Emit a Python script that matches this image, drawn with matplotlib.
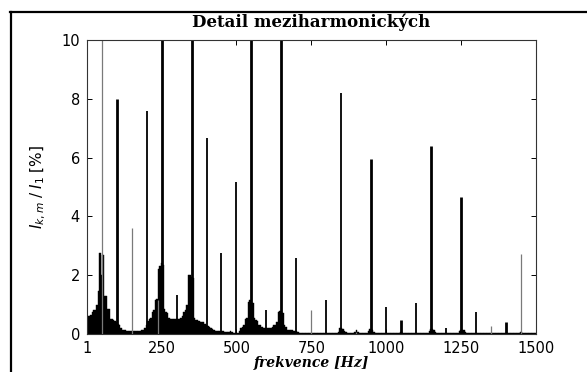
import numpy as np
import matplotlib
matplotlib.use("Agg")
import matplotlib.pyplot as plt
from matplotlib.lines import Line2D

# interharmonic background, 5 Hz bins (5 .. 1500 Hz), values in %
bg_amp = [
    0.6, 0.6, 0.65, 0.75, 0.8, 0.8, 1.0, 1.45, 2.75, 2.0, 2.7, 1.3, 1.3, 0.85, 0.85, 0.5, 0.5, 0.48, 0.45, 0.4,
    0.35, 0.3, 0.2, 0.15, 0.15, 0.12, 0.1, 0.1, 0.1, 0.1, 0.1, 0.1, 0.1, 0.1, 0.1, 0.1, 0.12, 0.15, 0.2, 0.3,
    0.45, 0.5, 0.55, 0.75, 0.8, 1.15, 1.2, 2.2, 2.3, 2.4, 2.35, 0.85, 0.75, 0.7, 0.55, 0.5, 0.5, 0.5, 0.5, 0.5,
    0.5, 0.5, 0.55, 0.6, 0.75, 0.8, 1.0, 2.0, 2.0, 1.95, 1.9, 0.55, 0.48, 0.48, 0.45, 0.42, 0.42, 0.4, 0.35, 0.3,
    0.27, 0.25, 0.2, 0.16, 0.15, 0.1, 0.1, 0.1, 0.1, 0.1, 0.1, 0.08, 0.08, 0.08, 0.08, 0.1, 0.08, 0.05, 0.05, 0.05,
    0.05, 0.1, 0.2, 0.25, 0.3, 0.5, 0.55, 1.1, 1.15, 1.1, 1.05, 0.55, 0.48, 0.45, 0.3, 0.3, 0.25, 0.2, 0.2, 0.2,
    0.2, 0.2, 0.2, 0.25, 0.3, 0.3, 0.4, 0.75, 0.78, 0.75, 0.7, 0.3, 0.25, 0.15, 0.15, 0.12, 0.12, 0.1, 0.1, 0.1,
    0.08, 0.05, 0.04, 0.03, 0.03, 0.03, 0.03, 0.03, 0.03, 0.03, 0.03, 0.03, 0.03, 0.03, 0.03, 0.03, 0.03, 0.03, 0.03, 0.03,
    0.03, 0.03, 0.03, 0.03, 0.03, 0.03, 0.03, 0.08, 0.2, 0.22, 0.18, 0.1, 0.08, 0.05, 0.05, 0.05, 0.04, 0.04, 0.08, 0.14,
    0.08, 0.05, 0.05, 0.05, 0.05, 0.05, 0.05, 0.1, 0.16, 0.16, 0.15, 0.08, 0.05, 0.04, 0.04, 0.03, 0.03, 0.03, 0.03, 0.03,
    0.03, 0.03, 0.03, 0.03, 0.03, 0.03, 0.03, 0.03, 0.05, 0.06, 0.05, 0.03, 0.03, 0.03, 0.03, 0.03, 0.03, 0.03, 0.03, 0.03,
    0.03, 0.03, 0.03, 0.03, 0.03, 0.03, 0.03, 0.05, 0.1, 0.17, 0.17, 0.15, 0.08, 0.05, 0.04, 0.03, 0.03, 0.03, 0.03, 0.05,
    0.03, 0.03, 0.03, 0.03, 0.03, 0.03, 0.03, 0.05, 0.1, 0.15, 0.15, 0.12, 0.06, 0.04, 0.03, 0.03, 0.03, 0.03, 0.03, 0.03,
    0.03, 0.03, 0.03, 0.03, 0.03, 0.03, 0.03, 0.03, 0.03, 0.03, 0.03, 0.03, 0.03, 0.03, 0.03, 0.03, 0.03, 0.03, 0.03, 0.03,
    0.03, 0.03, 0.03, 0.03, 0.03, 0.03, 0.03, 0.03, 0.05, 0.08, 0.05, 0.03, 0.03, 0.03, 0.03, 0.03, 0.03, 0.03, 0.03, 0.03,
]
bg_freq = np.arange(5, 5 * len(bg_amp) + 1, 5)

# harmonic / interharmonic spikes
heavy_freq = [100, 250, 350, 550, 650, 950, 1050, 1150, 1250, 1400]
heavy_amp = [7.98, 12, 12, 12, 12, 5.94, 0.48, 6.4, 4.67, 0.41]

line_freq = [200, 300, 400, 450, 500, 600, 700, 800, 850, 1000, 1100, 1200, 1300]
line_amp = [7.58, 1.33, 6.68, 2.77, 5.16, 0.8, 2.6, 1.16, 8.19, 0.93, 1.05, 0.21, 0.76]

faint_freq = [50, 150, 237, 750, 900, 1350, 1450]
faint_amp = [100, 3.6, 1.15, 0.82, 0.08, 0.27, 2.72]

xticks = [1, 250, 500, 750, 1000, 1250, 1500]
yticks = [0, 2, 4, 6, 8, 10]

fig = plt.figure(figsize=(5.87, 3.72), dpi=100)
ax = fig.add_axes([0.1482, 0.1022, 0.7649, 0.7903])

ax.bar(bg_freq, bg_amp, width=5, color="black", edgecolor="black", linewidth=0.3)
ax.vlines(heavy_freq, 0, heavy_amp, colors="black", linewidths=2.0)
ax.vlines(line_freq, 0, line_amp, colors="black", linewidths=1.3)
ax.vlines(faint_freq, 0, faint_amp, colors="#7a7a7a", linewidths=0.9)

ax.set_xlim(1, 1500)
ax.set_ylim(0, 10)
ax.set_xticks(xticks)
ax.set_yticks(yticks)
ax.tick_params(direction="in", top=True, right=True, length=3.5, width=0.7,
               labelsize=10.5, pad=5, colors="black")
for s in ax.spines.values():
    s.set_linewidth(0.8)
    s.set_color("#333333")

ax.set_title("Detail meziharmonických", fontfamily="DejaVu Serif",
             fontweight="bold", fontsize=12, pad=9)
ax.set_xlabel("frekvence [Hz]", fontfamily="DejaVu Serif", fontstyle="italic",
              fontweight="bold", fontsize=10, labelpad=0)
ax.set_ylabel(r"$\mathbf{\mathit{I}}_{k,m}\;/\;\mathbf{\mathit{I}}_{1}\;[\%]$",
              fontsize=11, labelpad=10)

# outer frame (top and left edges visible)
fig.add_artist(Line2D([10 / 587, 1.0], [1 - 12 / 372, 1 - 12 / 372],
                      transform=fig.transFigure, color="black", lw=1.6))
fig.add_artist(Line2D([11 / 587, 11 / 587], [0, 1 - 12 / 372],
                      transform=fig.transFigure, color="black", lw=1.6))

fig.savefig("out.png", dpi=100)
